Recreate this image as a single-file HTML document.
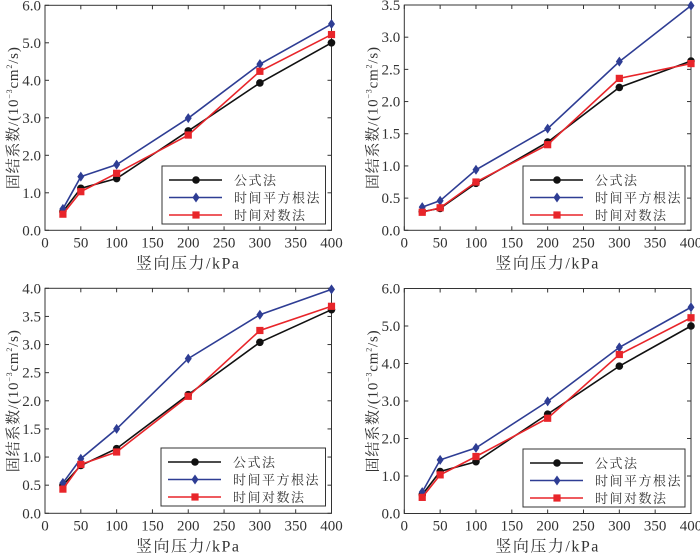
<!DOCTYPE html>
<html><head><meta charset="utf-8"><style>
body{margin:0;background:#fff;width:700px;height:553px;overflow:hidden}
svg text{font-family:"Liberation Serif","Noto Serif CJK SC",serif;fill:#333}
</style></head><body>
<svg id="fig" width="700" height="553"></svg>
<script>
const categories=[25,50,100,200,300,400];
const xTicks=[0,50,100,150,200,250,300,350,400];
const seriesNames=["公式法","时间平方根法","时间对数法"];
const p1Formula=[0.5,1.12,1.38,2.65,3.93,5.0];
const p1Sqrt=[0.57,1.43,1.75,2.99,4.43,5.5];
const p1Log=[0.43,1.03,1.52,2.54,4.24,5.22];
const p2Formula=[0.29,0.34,0.73,1.37,2.22,2.63];
const p2Sqrt=[0.36,0.46,0.94,1.58,2.62,3.49];
const p2Log=[0.28,0.35,0.75,1.33,2.36,2.59];
const p3Formula=[0.5,0.85,1.15,2.11,3.04,3.62];
const p3Sqrt=[0.54,0.97,1.5,2.75,3.53,3.98];
const p3Log=[0.43,0.87,1.09,2.08,3.25,3.68];
const p4Formula=[0.5,1.12,1.38,2.65,3.93,5.0];
const p4Sqrt=[0.57,1.43,1.75,2.99,4.43,5.5];
const p4Log=[0.43,1.03,1.52,2.54,4.24,5.22];
const yTicks6=["0.0","1.0","2.0","3.0","4.0","5.0","6.0"];
const yTicks35=["0.0","0.5","1.0","1.5","2.0","2.5","3.0","3.5"];
const yTicks4=["0.0","0.5","1.0","1.5","2.0","2.5","3.0","3.5","4.0"];

const NS="http://www.w3.org/2000/svg";
const svg=document.getElementById('fig');
function mk(tag,attrs,parent,text){const e=document.createElementNS(NS,tag);for(const k in attrs)e.setAttribute(k,attrs[k]);if(text!==undefined)e.textContent=text;(parent||svg).appendChild(e);return e;}
const colors=["#111","#2e3d94","#e8252a"];

function panel(id,x0,x1,yTop,yBot,ymax,yticks,series,leg){
  const g=mk('g',{});
  
  
  const sx=v=>x0+(x1-x0)*v/400;
  const sy=v=>yBot-(yBot-yTop)*v/ymax;
  const ax=mk('rect',{x:x0,y:yTop,width:x1-x0,height:yBot-yTop,fill:'none',stroke:'#333','stroke-width':1},g);
  
  
  xTicks.forEach(t=>{
    const x=sx(t);
    mk('line',{x1:x,x2:x,y1:yBot,y2:yBot-4,stroke:'#333'},g);
    mk('line',{x1:x,x2:x,y1:yTop,y2:yTop+4,stroke:'#333'},g);
    const tl=mk('text',{x:x,y:yBot+17,'text-anchor':'middle','font-size':15},g,String(t));
    
    
  });
  yticks.forEach(t=>{
    const y=sy(parseFloat(t));
    mk('line',{x1:x0,x2:x0+4,y1:y,y2:y,stroke:'#333'},g);
    mk('line',{x1:x1,x2:x1-4,y1:y,y2:y,stroke:'#333'},g);
    const tl=mk('text',{x:x0-4,y:y+5,'text-anchor':'end','font-size':15},g,t);
    
    
  });
  const xl=mk('text',{x:(x0+x1)/2,y:yBot+38,'text-anchor':'middle','font-size':16,'letter-spacing':'1.5'},g,'竖向压力/kPa');
  
  
  const yc=(yTop+yBot)/2, ylx=x0-32;
  const yl=mk('text',{x:ylx,y:yc+5,'text-anchor':'middle','font-size':15,'letter-spacing':'0.8',transform:`rotate(-90 ${ylx} ${yc})`},g);
  
  
  mk('tspan',{},yl,'固结系数/(10');
  mk('tspan',{'font-size':8,dy:-6},yl,'−3');
  mk('tspan',{dy:6},yl,'cm');
  mk('tspan',{'font-size':8,dy:-6},yl,'2');
  mk('tspan',{dy:6},yl,'/s)');
  series.forEach((vals,si)=>{
    const pts=categories.map((c,i)=>sx(c)+','+sy(vals[i])).join(' ');
    const pl=mk('polyline',{points:pts,fill:'none',stroke:colors[si],'stroke-width':1.6},g);
    
    
    categories.forEach((c,i)=>marker(g,si,sx(c),sy(vals[i])));
  });
  const lb=mk('rect',{x:leg[0],y:leg[1],width:x1-6-leg[0],height:58,fill:'#fff',stroke:'#333'},g);
  
  
  seriesNames.forEach((n,si)=>{
    const y=leg[1]+14+si*17.5;
    mk('line',{x1:leg[0]+7,x2:leg[0]+60,y1:y,y2:y,stroke:colors[si],'stroke-width':1.6},g);
    marker(g,si,leg[0]+34,y);
    const t=mk('text',{x:leg[0]+72,y:y+5,'font-size':13,'letter-spacing':'1.5'},g,n);
    
    
  });
}
function marker(g,si,x,y){
  let m;
  if(si===0)m=mk('circle',{cx:x,cy:y,r:3.8,fill:colors[0]},g);
  else if(si===1)m=mk('polygon',{points:`${x},${y-5} ${x+3.5},${y} ${x},${y+5} ${x-3.5},${y}`,fill:colors[1]},g);
  else m=mk('rect',{x:x-3.6,y:y-3.6,width:7.2,height:7.2,fill:colors[2]},g);
  
  
}
panel('a',45,331.5,5.3,230.3,6,yTicks6,[p1Formula,p1Sqrt,p1Log],[162,166]);
panel('b',404.3,691,5,230.3,3.5,yTicks35,[p2Formula,p2Sqrt,p2Log],[523,166]);
panel('c',45,331.5,288.3,513.3,4,yTicks4,[p3Formula,p3Sqrt,p3Log],[161,448]);
panel('d',404.3,691,288.5,513.5,6,yTicks6,[p4Formula,p4Sqrt,p4Log],[523,449]);
</script>
</body></html>
